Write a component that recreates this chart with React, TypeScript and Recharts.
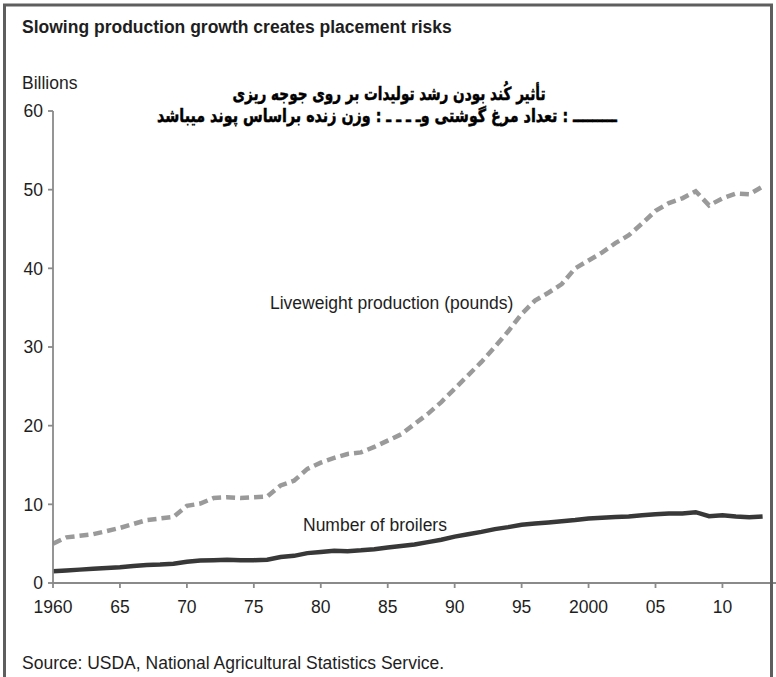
import React from 'react';
import { LineChart, Line, XAxis, YAxis } from 'recharts';

const years = [
  1960, 1961, 1962, 1963, 1964, 1965, 1966, 1967, 1968, 1969,
  1970, 1971, 1972, 1973, 1974, 1975, 1976, 1977, 1978, 1979,
  1980, 1981, 1982, 1983, 1984, 1985, 1986, 1987, 1988, 1989,
  1990, 1991, 1992, 1993, 1994, 1995, 1996, 1997, 1998, 1999,
  2000, 2001, 2002, 2003, 2004, 2005, 2006, 2007, 2008, 2009,
  2010, 2011, 2012, 2013,
];

const liveweight = [
  5.0, 5.8, 6.0, 6.2, 6.6, 7.0, 7.5, 8.0, 8.2, 8.4,
  9.8, 10.1, 10.8, 10.9, 10.8, 10.9, 11.0, 12.4, 13.0, 14.5,
  15.3, 15.9, 16.4, 16.6, 17.3, 18.1, 18.9, 20.2, 21.5, 23.0,
  24.7, 26.4, 28.1, 30.0, 32.0, 34.2, 35.9, 36.9, 38.0, 40.0,
  41.0, 42.0, 43.2, 44.2, 45.7, 47.3, 48.3, 48.9, 49.8, 48.0,
  48.9, 49.5, 49.4, 50.4,
];

const broilers = [
  1.5, 1.6, 1.7, 1.8, 1.9, 2.0, 2.15, 2.3, 2.35, 2.45,
  2.7, 2.85, 2.9, 2.95, 2.9, 2.9, 2.95, 3.3, 3.45, 3.8,
  3.95, 4.1, 4.05, 4.15, 4.3, 4.5, 4.7, 4.9, 5.2, 5.5,
  5.9, 6.2, 6.5, 6.85, 7.1, 7.4, 7.55, 7.7, 7.85, 8.0,
  8.2, 8.3, 8.4, 8.45, 8.6, 8.75, 8.85, 8.85, 9.0, 8.5,
  8.6, 8.45, 8.35, 8.45,
];

const xTicks = [1960, 1965, 1970, 1975, 1980, 1985, 1990, 1995, 2000, 2005, 2010];
const xTickLabels = ['1960', '65', '70', '75', '80', '85', '90', '95', '2000', '05', '10'];
const yTicks = [0, 10, 20, 30, 40, 50, 60];

const title = 'Slowing production growth creates placement risks';
const unitLabel = 'Billions';
const persianLine1 = 'تأثیر کُند بودن رشد تولیدات بر روی جوجه ریزی';
const persianLine2 = 'ـــــــــ : تعداد مرغ گوشتی وـ ـ ـ ـ : وزن زنده براساس پوند میباشد';
const liveweightLabel = 'Liveweight production (pounds)';
const broilersLabel = 'Number of broilers';
const source = 'Source: USDA, National Agricultural Statistics Service.';

const data = years.map((year, i) => ({ year, liveweight: liveweight[i], broilers: broilers[i] }));

const FONT = "'Liberation Sans', Arial, Helvetica, sans-serif";
const FA_FONT = "'DejaVu Sans', sans-serif";
const AXIS = '#8a8a8a';
const TEXT = '#1e1e1e';

export default function App() {
  return (
    <div style={{ position: 'absolute', left: 0, top: 0, width: 776, height: 677, background: '#fff', overflow: 'hidden' }}>
      <LineChart
        width={776}
        height={677}
        data={data}
        margin={{ top: 111, right: 0, left: 0, bottom: 64 }}
      >
        <XAxis
          dataKey="year"
          type="number"
          domain={[1960, 2014]}
          ticks={xTicks}
          tickFormatter={(v: number) => xTickLabels[xTicks.indexOf(v)] ?? String(v)}
          tick={{ fill: TEXT, fontSize: 17.5, fontFamily: FONT }}
          tickSize={5}
          tickMargin={13}
          height={30}
          stroke={AXIS}
          strokeWidth={1.8}
          allowDataOverflow
        />
        <YAxis
          type="number"
          domain={[0, 60]}
          ticks={yTicks}
          tick={{ fill: TEXT, fontSize: 17.5, fontFamily: FONT }}
          tickSize={5}
          tickMargin={5}
          width={53}
          stroke={AXIS}
          strokeWidth={1.8}
        />
        <Line
          type="linear"
          dataKey="liveweight"
          stroke="#9a9a9a"
          strokeWidth={4.5}
          strokeDasharray="9 5"
          dot={false}
          activeDot={false}
          isAnimationActive={false}
        />
        <Line
          type="linear"
          dataKey="broilers"
          stroke="#383838"
          strokeWidth={4.5}
          dot={false}
          activeDot={false}
          isAnimationActive={false}
        />
      </LineChart>
      <svg
        width={776}
        height={677}
        style={{ position: 'absolute', left: 0, top: 0, pointerEvents: 'none' }}
      >
        <text x={22} y={33} fontFamily={FONT} fontSize={17.5} fontWeight="bold" fill={TEXT}>{title}</text>
        <text x={22} y={89} fontFamily={FONT} fontSize={17.5} fill={TEXT}>{unitLabel}</text>
        <text x={389} y={100} fontFamily={FA_FONT} fontSize={18} fontWeight="bold" fill="#000" stroke="#000" strokeWidth={0.5} textAnchor="middle" direction="rtl" textLength={313} lengthAdjust="spacingAndGlyphs">{persianLine1}</text>
        <text x={387} y={122} fontFamily={FA_FONT} fontSize={18} fontWeight="bold" fill="#000" stroke="#000" strokeWidth={0.5} textAnchor="middle" direction="rtl" textLength={460} lengthAdjust="spacingAndGlyphs">{persianLine2}</text>
        <text x={270} y={309} fontFamily={FONT} fontSize={17.5} fill={TEXT}>{liveweightLabel}</text>
        <text x={303} y={531} fontFamily={FONT} fontSize={17.5} fill={TEXT}>{broilersLabel}</text>
        <text x={22} y={669} fontFamily={FONT} fontSize={17.5} fill={TEXT}>{source}</text>
        <rect x={4.5} y={5} width={767} height={720} fill="none" stroke="#5e5e5e" strokeWidth={3} />
      </svg>
    </div>
  );
}
